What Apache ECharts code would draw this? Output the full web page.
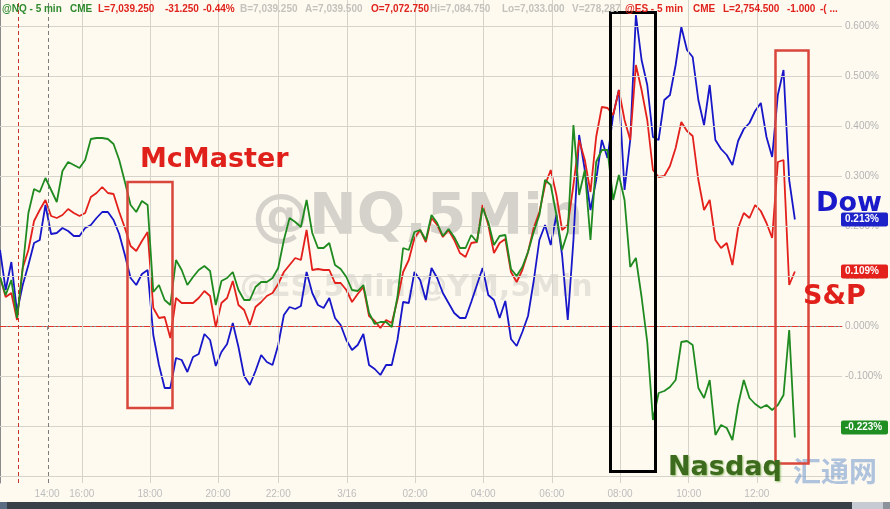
<!DOCTYPE html>
<html><head><meta charset="utf-8">
<script src="https://cdn.jsdelivr.net/npm/echarts@6/dist/echarts.min.js"></script>
<style>html,body{margin:0;padding:0;background:#fefaf0}#c{width:890px;height:509px}</style>
</head><body><div id="c"></div>
<script>
// ---- data (10-minute bars, % change vs prior close) ----
const tickPos = [8.3, 14.4, 26.4, 38.4, 49, 61.1, 73.1, 85.1, 97.2, 109.2, 121.3, 133.3];
const tickLabels = ['14:00','16:00','18:00','20:00','22:00','3/16','02:00','04:00','06:00','08:00','10:00','12:00'];
const yTicks = [-0.3,-0.2,-0.1,0,0.1,0.2,0.3,0.4,0.5,0.6];
const yLabelValues = [-0.2,-0.1,0,0.1,0.2,0.3,0.4,0.5,0.6];
const sessionStart = 3.2;

const dow = [0.152,0.072,0.128,0.028,0.082,0.122,0.166,0.172,0.242,0.184,
0.186,0.196,0.190,0.180,0.180,0.196,0.202,0.216,0.228,0.228,
0.212,0.184,0.142,0.096,0.082,0.104,0.112,-0.018,-0.078,-0.124,
-0.124,-0.064,-0.068,-0.092,-0.062,-0.056,-0.016,-0.028,-0.080,-0.052,
-0.036,0.006,-0.042,-0.100,-0.118,-0.090,-0.058,-0.072,-0.078,-0.038,
0.022,0.038,0.034,0.040,0.108,0.066,0.042,0.036,0.056,0.016,
0.002,-0.028,-0.048,-0.038,-0.016,-0.078,-0.086,-0.098,-0.078,-0.078,
-0.028,0.048,0.046,0.108,0.092,0.052,0.116,0.096,0.066,0.046,
0.026,0.016,0.016,0.048,0.082,0.116,0.062,0.052,0.016,0.050,
-0.026,-0.040,-0.012,0.020,0.090,0.172,0.202,0.162,0.222,0.142,
0.012,0.172,0.382,0.312,0.232,0.292,0.372,0.336,0.422,0.472,
0.272,0.372,0.622,0.532,0.482,0.378,0.372,0.452,0.462,0.522,
0.598,0.552,0.538,0.452,0.402,0.482,0.372,0.354,0.342,0.322,
0.370,0.394,0.406,0.430,0.446,0.378,0.338,0.462,0.512,0.292,
0.213];

const sp = [0.098,0.058,0.066,0.012,0.116,0.152,0.210,0.232,0.252,0.220,
0.216,0.222,0.234,0.226,0.220,0.226,0.258,0.266,0.278,0.266,
0.264,0.228,0.196,0.160,0.150,0.170,0.188,0.036,0.016,0.018,
-0.024,0.056,0.046,0.046,0.046,0.056,0.070,0.060,-0.002,0.046,
0.056,0.090,0.042,0.032,0.002,0.038,0.048,0.060,0.066,0.084,
0.108,0.122,0.136,0.132,0.192,0.112,0.114,0.112,0.112,0.086,
0.086,0.072,0.048,0.064,0.078,0.020,0.010,-0.004,0.012,0.006,
0.052,0.108,0.132,0.176,0.192,0.168,0.216,0.202,0.178,0.192,
0.172,0.146,0.138,0.166,0.168,0.242,0.202,0.146,0.166,0.174,
0.108,0.088,0.112,0.148,0.196,0.228,0.282,0.312,0.262,0.192,
0.202,0.282,0.372,0.332,0.268,0.378,0.438,0.436,0.422,0.472,
0.412,0.372,0.522,0.472,0.412,0.312,0.298,0.300,0.320,0.356,
0.408,0.390,0.380,0.292,0.232,0.252,0.172,0.156,0.166,0.122,
0.196,0.226,0.216,0.242,0.230,0.206,0.176,0.328,0.332,0.082,
0.109];

const nasdaq = [0.098,0.062,0.092,0.016,0.116,0.226,0.274,0.268,0.296,0.272,
0.248,0.310,0.328,0.322,0.316,0.332,0.374,0.376,0.376,0.374,
0.364,0.332,0.288,0.242,0.228,0.250,0.242,0.068,0.082,0.052,
0.042,0.132,0.112,0.082,0.098,0.112,0.120,0.110,0.042,0.090,
0.096,0.108,0.072,0.052,0.052,0.078,0.088,0.088,0.096,0.116,
0.172,0.216,0.208,0.198,0.252,0.186,0.156,0.156,0.166,0.122,
0.114,0.098,0.072,0.070,0.082,0.026,0.004,0.008,0.008,-0.002,
0.058,0.156,0.152,0.188,0.192,0.172,0.222,0.206,0.180,0.194,
0.178,0.156,0.156,0.182,0.168,0.236,0.208,0.162,0.180,0.182,
0.114,0.100,0.118,0.148,0.188,0.222,0.292,0.282,0.222,0.152,
0.188,0.402,0.262,0.312,0.172,0.328,0.352,0.352,0.252,0.302,
0.252,0.118,0.136,0.058,-0.032,-0.188,-0.134,-0.130,-0.122,-0.108,
-0.032,-0.030,-0.038,-0.124,-0.144,-0.108,-0.218,-0.198,-0.204,-0.228,
-0.158,-0.108,-0.144,-0.156,-0.164,-0.158,-0.168,-0.158,-0.138,-0.008,
-0.223];

const seriesNames = ['Dow','S&P','Nasdaq'];
const seriesColors = ['#1717c9','#e3201b','#1f8a1f'];
const tagColors = ['#1c22c8','#e3201b','#1f8f24'];

// ---- chart ----
const chart = echarts.init(document.getElementById('c'));
const pairs = arr => arr.map((v, i) => [i, v]);
const lbl = v => { let b = 0; tickPos.forEach((p, k) => { if (Math.abs(p - v) < Math.abs(tickPos[b] - v)) b = k; }); return tickLabels[b]; };

const gridLines = [];
yTicks.filter(v => v !== 0).forEach(v => gridLines.push({yAxis: v, lineStyle: {color: '#d6d3cb', width: 1, type: 'solid'}}));
tickPos.slice(1).forEach(p => gridLines.push({xAxis: p, lineStyle: {color: '#d6d3cb', width: 1, type: 'solid'}}));
gridLines.push({xAxis: tickPos[0] + 0.2, lineStyle: {color: '#7d7d7d', width: 1, type: [4, 3]}});
gridLines.push({xAxis: sessionStart, lineStyle: {color: '#c8322a', width: 1, type: [4, 3]}});
gridLines.push({yAxis: 0, lineStyle: {color: '#e0352b', width: 1, type: [6, 2, 2, 2]}});

const data = [dow, sp, nasdaq];

chart.setOption({
  animation: false,
  backgroundColor: '#fefaf0',
  textStyle: {fontFamily: 'Liberation Sans'},
  grid: {left: 0, right: 48, top: 0, bottom: 26, containLabel: false, outerBoundsMode: 'none'},
  xAxis: {
    type: 'value', min: 0, max: 148.3, position: 'bottom',
    axisLine: {show: true, lineStyle: {color: '#8a8a8a', width: 1}},
    axisTick: {show: true, customValues: tickPos, length: 4, lineStyle: {color: '#8a8a8a'}},
    axisLabel: {customValues: tickPos, formatter: lbl, color: '#bdbdbd', fontSize: 10, margin: 6},
    splitLine: {show: false}
  },
  yAxis: {
    type: 'value', position: 'right', min: -0.314, max: 0.652,
    axisLine: {show: true, lineStyle: {color: '#8a8a8a', width: 1}},
    axisTick: {show: true, customValues: yLabelValues, length: 3, lineStyle: {color: '#8a8a8a'}},
    axisLabel: {customValues: yLabelValues, formatter: v => v.toFixed(3) + '%', color: '#b3b3b3', fontSize: 10, margin: 3},
    splitLine: {show: false}
  },
  series: [
    {type: 'line', data: [], z: 1, silent: true,
     markLine: {silent: true, symbol: 'none', label: {show: false}, emphasis: {disabled: true}, animation: false, data: gridLines}},
    ...data.map((d, k) => ({
      name: seriesNames[k], type: 'line', data: pairs(d), showSymbol: false, symbol: 'none',
      lineStyle: {color: seriesColors[k], width: 1.8}, z: 3 + k, silent: true
    }))
  ]
});

// ---- annotations ----
const g = [];
const bold = 'bold 10px "Liberation Sans"';
const header = [
  [2, '@NQ - 5 min', '#2f8a2f'], [70, 'CME', '#2f8a2f'], [98, 'L=7,039.250', '#e0231c'],
  [165, '-31.250', '#e0231c'], [203, '-0.44%', '#e0231c'], [240, 'B=7,039.250', '#c4c2bd'],
  [305, 'A=7,039.500', '#c4c2bd'], [371, 'O=7,072.750', '#e0231c'], [430, 'Hi=7,084.750', '#c4c2bd'],
  [502, 'Lo=7,033.000', '#c4c2bd'], [572, 'V=278,287', '#c4c2bd'], [625, '@ES - 5 min', '#e0231c'],
  [693, 'CME', '#e0231c'], [723, 'L=2,754.500', '#e0231c'], [787, '-1.000', '#e0231c'], [820, '-( ...', '#e0231c']
];
header.forEach(h => g.push({type: 'text', x: h[0], y: 9, z: 20, style: {text: h[1], font: bold, fill: h[2], textVerticalAlign: 'middle'}}));

// watermarks
g.push({type: 'text', x: 252, y: 219, z: 0, style: {text: '@NQ,5Min', font: 'bold 57px "DejaVu Sans"', fill: 'rgba(120,120,120,0.3)', textVerticalAlign: 'middle'}});
g.push({type: 'text', x: 240, y: 288, z: 0, style: {text: '@ES,5Min,@YM,5Min', font: 'bold 30px "DejaVu Sans"', fill: 'rgba(120,120,120,0.18)', textVerticalAlign: 'middle'}});

// boxes
g.push({type: 'rect', z: 15, shape: {x: 127.5, y: 182, width: 45, height: 226}, style: {fill: 'none', stroke: '#d9463b', lineWidth: 2.5}});
g.push({type: 'rect', z: 15, shape: {x: 610.5, y: 12.5, width: 45, height: 459}, style: {fill: 'none', stroke: '#000', lineWidth: 3}});
g.push({type: 'rect', z: 15, shape: {x: 775.5, y: 50.5, width: 33, height: 413}, style: {fill: 'none', stroke: '#d9463b', lineWidth: 2.5}});

// labels
g.push({type: 'text', x: 140, y: 160, z: 16, style: {text: 'McMaster', font: 'bold 27px "DejaVu Sans"', fill: '#e0201a', textVerticalAlign: 'middle'}});
g.push({type: 'text', x: 816, y: 204, z: 16, style: {text: 'Dow', font: 'bold 27px "DejaVu Sans"', fill: '#1a1acb', textVerticalAlign: 'middle'}});
g.push({type: 'text', x: 803, y: 297, z: 16, style: {text: 'S&P', font: 'bold 27px "DejaVu Sans"', fill: '#e0201a', textVerticalAlign: 'middle'}});
g.push({type: 'text', x: 793, y: 471, z: 14, style: {text: '汇通网', font: 'bold 28px "Noto Sans CJK SC"', fill: 'rgba(110,150,205,0.55)', textVerticalAlign: 'middle'}});
g.push({type: 'text', x: 668, y: 468, z: 16, style: {text: 'Nasdaq', font: 'bold 27px "DejaVu Sans"', fill: '#3d6b1d', textVerticalAlign: 'middle', textShadowColor: 'rgba(110,170,60,0.7)', textShadowBlur: 2, textShadowOffsetX: 1, textShadowOffsetY: 1}});

// last-value tags on the axis
const tagOffsets = [0, 0, -10];
data.forEach((d, k) => {
  const last = d[d.length - 1];
  const p = chart.convertToPixel({xAxisIndex: 0, yAxisIndex: 0}, [d.length - 1, last]);
  const cy = p[1] + tagOffsets[k];
  g.push({type: 'rect', z: 18, shape: {x: 841, y: cy - 7, width: 47, height: 14, r: 2}, style: {fill: tagColors[k]}});
  g.push({type: 'text', x: 845, y: cy, z: 19, style: {text: last.toFixed(3) + '%', font: 'bold 10px "Liberation Sans"', fill: '#ffffff', textVerticalAlign: 'middle'}});
});

// bottom band
g.push({type: 'rect', z: 20, shape: {x: 0, y: 502, width: 890, height: 7}, style: {fill: '#3a4048'}});
g.push({type: 'rect', z: 21, shape: {x: 0, y: 502, width: 7, height: 7}, style: {fill: '#5b6b82'}});
g.push({type: 'rect', z: 21, shape: {x: 852, y: 502, width: 31, height: 7}, style: {fill: '#c6cbd3'}});
g.push({type: 'rect', z: 21, shape: {x: 883, y: 502, width: 7, height: 7}, style: {fill: '#8b929b'}});

chart.setOption({graphic: g});
</script>
</body></html>
